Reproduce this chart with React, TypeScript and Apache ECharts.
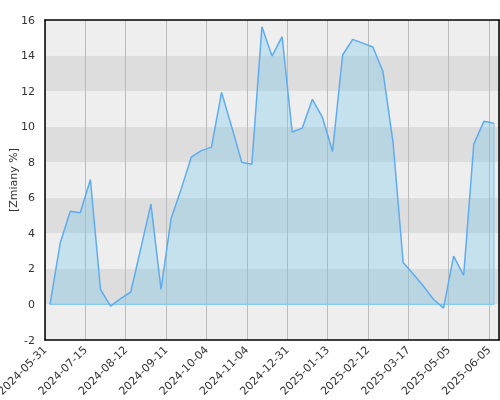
import React, { useEffect, useRef } from 'react';
import * as echarts from 'echarts';

// etykiety osi X (co 4 punkty)
const tickLabels = [
  '2024-05-31', '2024-07-15', '2024-08-12', '2024-09-11', '2024-10-04', '2024-11-04',
  '2024-12-31', '2025-01-13', '2025-02-12', '2025-03-17', '2025-05-05', '2025-06-05',
];

// zmiany % dla kolejnych notowań
const values = [
  0.0, 3.44, 5.24, 5.16, 7.03, 0.85, -0.09, 0.33, 0.7, 3.17,
  5.64, 0.85, 4.84, 6.5, 8.28, 8.65, 8.85, 11.93, 10.0, 8.0,
  7.88, 15.62, 13.97, 15.06, 9.7, 9.92, 11.54, 10.52, 8.6, 14.03,
  14.91, 14.7, 14.48, 13.1, 9.1, 2.36, 1.71, 1.04, 0.29, -0.21,
  2.72, 1.64, 9.02, 10.3, 10.19,
];

const yTicks = [-2, 0, 2, 4, 6, 8, 10, 12, 14, 16];
const labelStep = 4;

const FONT = 'DejaVu Sans';

const App: React.FC = () => {
  const chartRef = useRef<HTMLDivElement>(null);

  useEffect(() => {
    if (!chartRef.current) return;
    const chart = echarts.init(chartRef.current, undefined, { renderer: 'svg' });

    const n = values.length;
    const lineData = values.map((v, i) => [i + 0.5, v]);
    const last = values[n - 1];
    const baseData = [[n - 0.5, last], [n - 0.5, 0], [0.5, 0]];

    const options: echarts.EChartsCoreOption = {
      animation: false,
      textStyle: { fontFamily: FONT },
      grid: { left: 45, right: 1, top: 20, bottom: 60, containLabel: false, outerBoundsMode: 'none' },
      xAxis: [
        {
          type: 'value',
          min: 0,
          max: n,
          interval: labelStep,
          axisLine: { show: true, onZero: false, lineStyle: { color: '#000', width: 1.5 } },
          axisTick: { show: false },
          splitLine: { show: true, lineStyle: { color: '#bbbbbb', width: 1 } },
          axisLabel: {
            rotate: 45,
            margin: 8,
            fontSize: 11,
            color: '#333',
            fontFamily: FONT,
            showMaxLabel: false,
            formatter: (v: number) => (v % labelStep === 0 ? tickLabels[v / labelStep] ?? '' : ''),
          },
        },
        {
          type: 'value',
          position: 'top',
          min: 0,
          max: n,
          axisLine: { show: true, onZero: false, lineStyle: { color: '#000', width: 1.5 } },
          axisTick: { show: false },
          axisLabel: { show: false },
          splitLine: { show: false },
        },
      ],
      yAxis: [
        {
          type: 'value',
          min: yTicks[0],
          max: yTicks[yTicks.length - 1],
          interval: 2,
          name: '[Zmiany %]',
          nameLocation: 'middle',
          nameRotate: 90,
          nameGap: 26,
          nameMoveOverlap: false,
          nameTextStyle: { fontSize: 11, color: '#333', fontFamily: FONT },
          axisLine: { show: true, onZero: false, lineStyle: { color: '#000', width: 1.5 } },
          axisTick: { show: false },
          axisLabel: { fontSize: 11, color: '#333', margin: 10, fontFamily: FONT },
          splitLine: { show: false },
          splitArea: { show: true, areaStyle: { color: ['#eeeeee', '#dddddd'] } },
        },
        {
          type: 'value',
          position: 'right',
          min: yTicks[0],
          max: yTicks[yTicks.length - 1],
          interval: 2,
          axisLine: { show: true, onZero: false, lineStyle: { color: '#000', width: 1.5 } },
          axisTick: { show: false },
          axisLabel: { show: false },
          splitLine: { show: false },
        },
      ],
      series: [
        {
          type: 'line',
          data: baseData,
          symbol: 'none',
          silent: true,
          z: 2,
          lineStyle: { color: '#8ccbf0', width: 1.2 },
        },
        {
          type: 'line',
          data: lineData,
          symbol: 'none',
          z: 3,
          lineStyle: { color: '#5eacf0', width: 1.5 },
          areaStyle: { color: 'rgba(118,200,236,0.48)' },
        },
      ],
    };

    chart.setOption(options);
    return () => chart.dispose();
  }, []);

  return (
    <div
      ref={chartRef}
      style={{ position: 'fixed', left: 0, top: 0, width: '500px', height: '400px' }}
    />
  );
};

export default App;
